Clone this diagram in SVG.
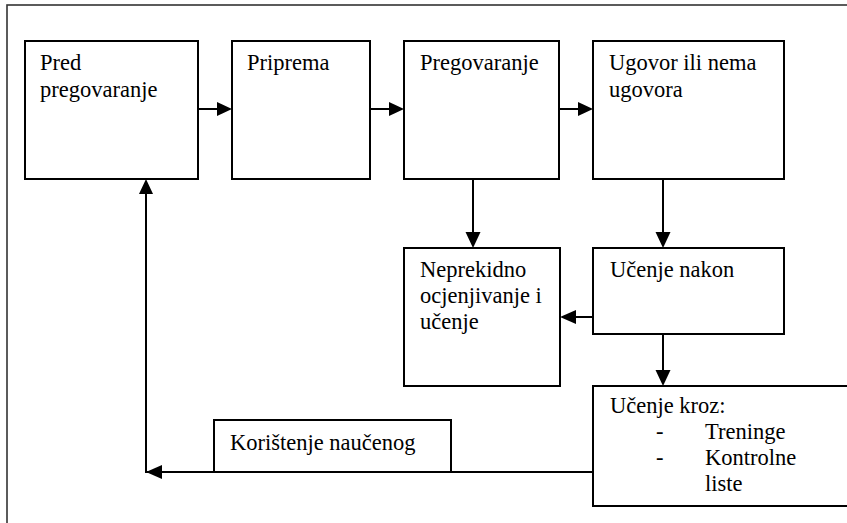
<svg xmlns="http://www.w3.org/2000/svg" width="847" height="523" viewBox="0 0 847 523">
<style>
.box{fill:#fff;stroke:#000;stroke-width:2}
.frame{fill:#fff;stroke:#333;stroke-width:1.6}
.ln{fill:none;stroke:#000;stroke-width:2}
.ah{fill:#000;stroke:none}
.t{font-family:"Times New Roman","Liberation Serif",Tinos,"Noto Serif",serif;font-size:22.5px;fill:#000}
</style>
<rect class="frame" x="7" y="5" width="860" height="540"/>
<g id="connectors">
<line class="ln" x1="198" y1="109" x2="218" y2="109"/>
<polygon class="ah" points="217,102 232,109 217,116"/>
<line class="ln" x1="370" y1="109" x2="390" y2="109"/>
<polygon class="ah" points="389,102 404,109 389,116"/>
<line class="ln" x1="542" y1="109" x2="579" y2="109"/>
<polygon class="ah" points="578,102 593,109 578,116"/>
<line class="ln" x1="473" y1="179" x2="473" y2="233"/>
<polygon class="ah" points="465.5,232 473,248 480.5,232"/>
<line class="ln" x1="663" y1="179" x2="663" y2="233"/>
<polygon class="ah" points="655.5,232 663,248 670.5,232"/>
<line class="ln" x1="593" y1="317" x2="575" y2="317"/>
<polygon class="ah" points="576,310 560,317 576,324"/>
<line class="ln" x1="663" y1="334" x2="663" y2="371"/>
<polygon class="ah" points="655.5,370 663,386 670.5,370"/>
<polyline class="ln" points="593,472 146,472 146,193"/>
<polygon class="ah" points="162,465 146,472 162,479"/>
<polygon class="ah" points="139,194 146,179 153,194"/>
</g>
<g id="n1" class="t"><rect class="box" x="25" y="41" width="173" height="138"/><text x="40" y="70">Pred</text><text x="40" y="97">pregovaranje</text></g>
<g id="n2" class="t"><rect class="box" x="232" y="41" width="138" height="138"/><text x="247" y="70">Priprema</text></g>
<g id="n3" class="t"><rect class="box" x="404" y="41" width="155" height="138"/><text x="420" y="70">Pregovaranje</text></g>
<g id="n4" class="t"><rect class="box" x="593" y="41" width="191" height="138"/><text x="609" y="70">Ugovor ili nema</text><text x="609" y="97">ugovora</text></g>
<g id="n5" class="t"><rect class="box" x="404" y="248" width="156" height="138"/><text x="420" y="277">Neprekidno</text><text x="420" y="303">ocjenjivanje i</text><text x="420" y="329">učenje</text></g>
<g id="n6" class="t"><rect class="box" x="593" y="248" width="191" height="86"/><text x="610" y="277">Učenje nakon</text></g>
<g id="n7" class="t"><rect class="box" x="593" y="386" width="270" height="120"/><text x="610" y="413">Učenje kroz:</text><text x="656" y="439">-</text><text x="705" y="439">Treninge</text><text x="656" y="465">-</text><text x="705" y="465">Kontrolne</text><text x="705" y="491">liste</text></g>
<g id="n8" class="t"><rect class="box" x="214" y="420" width="237" height="52"/><text x="230" y="450">Korištenje naučenog</text></g>
</svg>
